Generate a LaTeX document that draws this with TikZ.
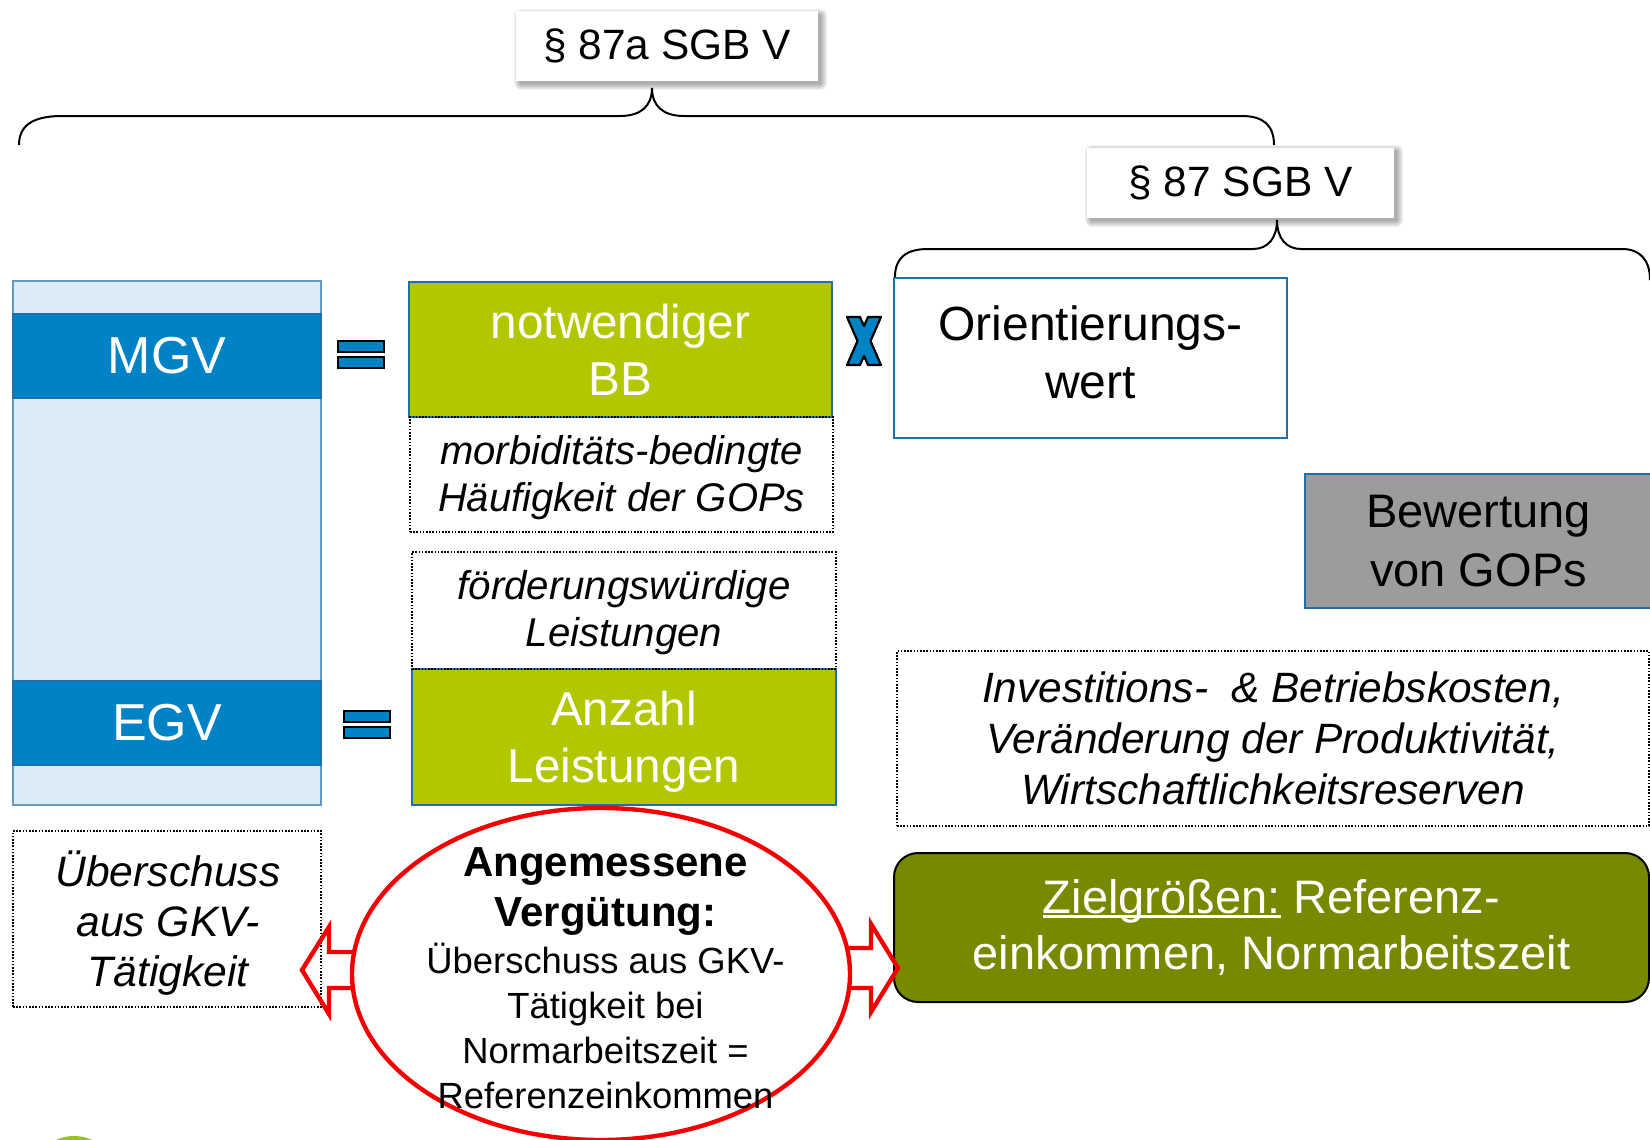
\documentclass[tikz,border=0pt]{standalone}
\usepackage{fontspec}
\setmainfont{Liberation Sans}
\usetikzlibrary{shapes.geometric}
\definecolor{lightpanel}{HTML}{DCEBF5}
\definecolor{barblue}{HTML}{0083C6}
\definecolor{edgeblue}{HTML}{1F6FA8}
\definecolor{limegreen}{HTML}{B3C700}
\definecolor{olivegreen}{HTML}{788900}
\definecolor{greyfill}{HTML}{9C9C9C}
\definecolor{redline}{HTML}{F50000}
\definecolor{logogreen}{HTML}{98C21E}
\newcommand\zielul[1]{\leavevmode\setbox0\hbox{#1}\rlap{\rule[-0.09em]{\wd0}{0.055em}}\box0\relax}
\tikzset{
  secbox/.style={fill=white, inner sep=0pt, minimum width=#1, minimum height=35pt,
    font=\fontsize{21.2}{25}\selectfont},
  softshadow/.style={fill=black, opacity=0.05},
  bracepath/.style={line width=1pt, black},
  panel/.style={fill=lightpanel, draw=edgeblue!70, line width=0.6pt, inner sep=0pt,
    minimum width=154pt, minimum height=262pt},
  barbox/.style={fill=barblue, draw=edgeblue, line width=0.8pt, inner sep=0pt,
    minimum width=154pt, minimum height=42pt, text=white, font=\fontsize{26}{31}\selectfont},
  eqbar/.style={fill=barblue, draw=black, line width=1pt},
  limebox/.style={fill=limegreen, draw=edgeblue, line width=0.8pt, inner sep=0pt},
  limetext/.style={text=white, align=center, inner sep=0pt, font=\fontsize{23.8}{28.5}\selectfont},
  dotbox/.style={draw=black, line width=0.8pt, dash pattern=on 0.8pt off 0.8pt,
    inner sep=0pt, align=center},
  whitebx/.style={draw=edgeblue, line width=0.8pt, fill=white, inner sep=0pt},
  graybx/.style={fill=greyfill, draw=edgeblue, line width=0.8pt, inner sep=0pt,
    align=center, font=\fontsize{23.5}{29.5}\selectfont},
  zielbox/.style={fill=olivegreen, draw=black, line width=1pt, rounded corners=12pt,
    inner sep=0pt, text=white, align=center, font=\fontsize{23.5}{28}\selectfont},
  redarrow/.style={draw=redline, line width=2.2pt, line join=miter},
  ebold/.style={font=\bfseries\fontsize{21}{25}\selectfont, inner sep=0pt},
  ereg/.style={font=\fontsize{18.2}{22}\selectfont, inner sep=0pt},
}
\begin{document}
\begin{tikzpicture}[x=0.5pt,y=-0.5pt]
\clip (0,0) rectangle (1650,1140);
\fill[white] (0,0) rectangle (1650,1140);

% braces
\draw[bracepath] (19,145) .. controls (19,126) and (32,116) .. (62,116) -- (620,116)
  .. controls (641,116) and (652,106) .. (652,88);
\draw[bracepath] (652,88) .. controls (652,106) and (663,116) .. (684,116) -- (1242,116)
  .. controls (1264,116) and (1274,126) .. (1274,145);
\draw[bracepath] (895,277) .. controls (895,258) and (906,249) .. (928,249) -- (1253,249)
  .. controls (1268,249) and (1277,238) .. (1277,220);
\draw[bracepath] (1277,220) .. controls (1277,238) and (1286,249) .. (1301,249) -- (1622,249)
  .. controls (1640,249) and (1650,260) .. (1650,280);

% section labels with soft shadows
\foreach \k in {1,...,7} {
  \fill[softshadow, rounded corners=\k*0.5pt] (516+5-\k,11+5-\k) rectangle (818+2+\k,81+2+\k);
  \fill[softshadow, rounded corners=\k*0.5pt] (1087+5-\k,147+5-\k) rectangle (1394+2+\k,218+2+\k);
}
\node[secbox=151pt] (s87a) at (667,46) {§ 87a SGB V};
\node[secbox=153.5pt] (s87) at (1240.5,182.5) {§ 87 SGB V};

% left column
\node[panel] (panel) at (167,543) {};
\node[barbox] (mgv) at (167,356) {MGV};
\node[barbox] (egv) at (167,723) {EGV};

% equal signs
\foreach \cx/\cy in {361/354, 367/724.5} {
  \filldraw[eqbar] (\cx-23,\cy-13.5) rectangle (\cx+23,\cy-2.5);
  \filldraw[eqbar] (\cx-23,\cy+2.5) rectangle (\cx+23,\cy+13.5);
}

% middle column
\node[limebox, minimum width=211.5pt, minimum height=67.5pt] (bb) at (620.5,349.5) {};
\node[limetext] (bbT) at (620.5,350) {notwendiger\\BB};
\node[limebox, minimum width=212pt, minimum height=68pt] (anz) at (624,737) {};
\node[limetext] (anzT) at (624,742) {Anzahl\\Leistungen};
\node[dotbox, minimum width=211.5pt, minimum height=57.5pt,
  font=\itshape\fontsize{20}{23.5}\selectfont] (morb) at (621.5,474.5) {};
\node[align=center, inner sep=0pt, font=\itshape\fontsize{20}{23.5}\selectfont] (morbT) at (621.5,477.5)
  {morbiditäts-bedingte\\Häufigkeit der GOPs};
\node[dotbox, minimum width=212pt, minimum height=58.5pt] (foerd) at (624,610.5) {};
\node[align=center, inner sep=0pt, font=\itshape\fontsize{20.1}{23.5}\selectfont] (foerdT) at (624,613)
  {förderungswürdige\\Leistungen};

% multiplication sign
\begin{scope}[shift={(864,341)}]
\filldraw[fill=barblue, draw=black, line width=1.1pt, line join=round]
  (-17,-24) -- (-4,-24) -- (0,-14.9) -- (4,-24) -- (17,-24) -- (6.5,0) -- (17,24)
  -- (4,24) -- (0,14.9) -- (-4,24) -- (-17,24) -- (-6.5,0) -- cycle;
\end{scope}

% right column
\node[whitebx, minimum width=196.5pt, minimum height=80pt] (orient) at (1090.5,358) {};
\node[font=\fontsize{24}{29}\selectfont, align=center, inner sep=0pt] (orientT) at (1090.5,352) {Orientierungs-\\wert};
\node[graybx, minimum width=173.5pt, minimum height=67pt] (bew) at (1478.5,541) {Bewertung\\von GOPs};
\node[dotbox, minimum width=376pt, minimum height=87.5pt] (inv) at (1273,738.5) {};
\node[align=center, inner sep=0pt, font=\itshape\fontsize{21.2}{25.5}\selectfont] (invT) at (1273,738.5)
  {Investitions-\hspace{0.55em}\& Betriebskosten,\\Veränderung der Produktivität,\\Wirtschaftlichkeitsreserven};
\node[zielbox, minimum width=377.5pt, minimum height=74.5pt] (ziel) at (1271.5,927.5)
  {\zielul{Zielgrößen:} Referenz-\\einkommen, Normarbeitszeit};

% bottom left
\node[dotbox, minimum width=154pt, minimum height=88pt] (ueb) at (167,919) {};
\node[align=center, inner sep=0pt, font=\itshape\fontsize{21.3}{25.2}\selectfont] (uebT) at (168,923)
  {Überschuss\\aus GKV-\\Tätigkeit};

% outline arrows
\draw[redarrow] (362,952) -- (329,952) -- (329,927) -- (302,970) -- (329,1014) -- (329,988) -- (362,988);
\draw[redarrow] (840,948) -- (871,948) -- (871,924) -- (898,968) -- (871,1012) -- (871,988) -- (840,988);

% ellipse
\node[ellipse, draw=redline, line width=2.2pt, fill=white, inner sep=0pt,
  minimum width=249pt, minimum height=166pt] (ell) at (601,974) {};
\node[ebold, anchor=base] (e1) at (605.5,876) {Angemessene};
\node[ebold, anchor=base] (e2) at (605.5,926) {Vergütung:};
\node[ereg, anchor=base] (e3) at (605.5,973) {Überschuss aus GKV-};
\node[ereg, anchor=base] (e4) at (605.5,1018.5) {Tätigkeit bei};
\node[ereg, anchor=base] (e5) at (605.5,1063.5) {Normarbeitszeit =};
\node[ereg, anchor=base] (e6) at (605.5,1108) {Referenzeinkommen};

% logo remnant
\fill[logogreen] (74,1153) ellipse [x radius=28, y radius=17];
\end{tikzpicture}
\end{document}
